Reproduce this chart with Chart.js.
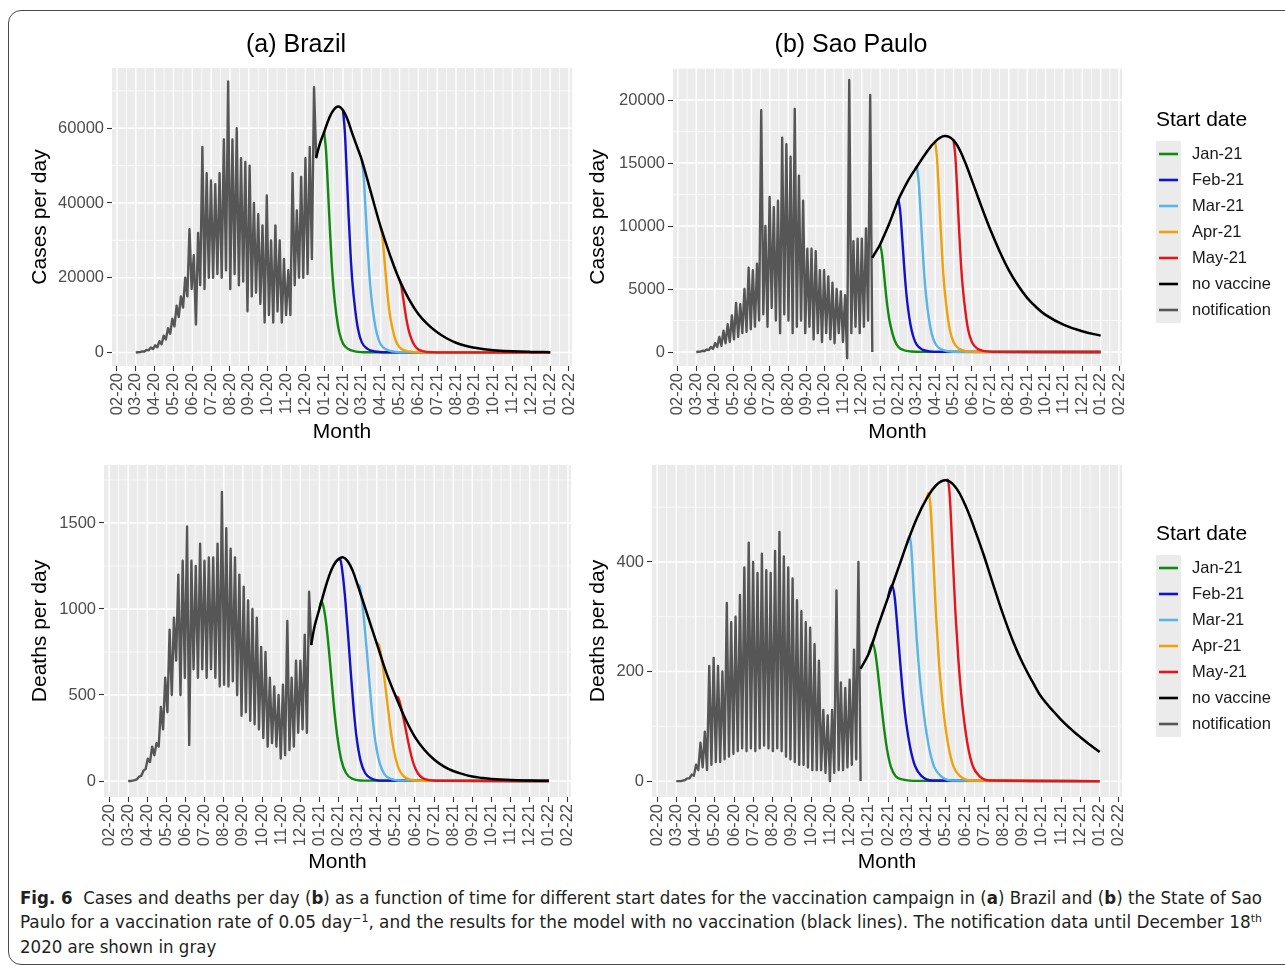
<!DOCTYPE html>
<html>
<head>
<meta charset="utf-8">
<title>Fig. 6 vaccination start dates</title>
<script src="https://cdn.jsdelivr.net/npm/chart.js@4.4.1/dist/chart.umd.min.js"></script>
<style>
  html, body { margin: 0; padding: 0; background: #fff; }
  body { width: 1285px; height: 968px; overflow: hidden; position: relative; font-family: "Liberation Sans", Arial, sans-serif; }
  .frame { position: absolute; left: 8px; top: 10px; width: 1320px; height: 955px; border: 1px solid #4a4a4a; border-radius: 13px; box-sizing: border-box; }
  .panel { position: absolute; }
  #caption { position: absolute; left: 20px; top: 0; color: #231f20; font-family: "Liberation Sans Narrow", "DejaVu Sans Condensed", "Liberation Sans", sans-serif; font-size: 17px; }
  #caption .ln { position: absolute; left: 0; white-space: nowrap; transform-origin: 0 50%; display: inline-block; line-height: 22px; }
  #caption sup { font-size: 11px; line-height: 0; vertical-align: 6px; }
</style>
</head>
<body>
<div class="frame"></div>

<canvas id="brCases" class="panel" width="560" height="425" style="left:20px;top:20px"></canvas>
<canvas id="spCases" class="panel" width="705" height="425" style="left:580px;top:20px"></canvas>
<canvas id="brDeaths" class="panel" width="560" height="425" style="left:20px;top:450px"></canvas>
<canvas id="spDeaths" class="panel" width="705" height="425" style="left:580px;top:450px"></canvas>

<div id="caption">
  <div class="ln" id="cap1" style="top:887px"><b>Fig. 6</b>&nbsp; Cases and deaths per day (<b>b</b>) as a function of time for different start dates for the vaccination campaign in (<b>a</b>) Brazil and (<b>b</b>) the State of Sao</div>
  <div class="ln" id="cap2" style="top:911px">Paulo for a vaccination rate of 0.05 day<sup>−1</sup>, and the results for the model with no vaccination (black lines). The notification data until December 18<sup>th</sup></div>
  <div class="ln" id="cap3" style="top:936px">2020 are shown in gray</div>
</div>

<script>
// ---- axis labels (x in months: 2 = Feb 2020, 13 = Jan 2021, 25 = Jan 2022) ----
const MONTH_TICKS = [2, 3, 4, 5, 6, 7, 8, 9, 10, 11, 12, 13, 14, 15, 16, 17, 18, 19, 20, 21, 22, 23, 24, 25, 26];
const MONTH_LABELS = ['02-20', '03-20', '04-20', '05-20', '06-20', '07-20', '08-20', '09-20', '10-20', '11-20', '12-20',
  '01-21', '02-21', '03-21', '04-21', '05-21', '06-21', '07-21', '08-21', '09-21', '10-21', '11-21', '12-21', '01-22', '02-22'];
const X_MIN = 1.735;
const X_MAX = 26.16;

const LEGEND_TITLE = 'Start date';
const START_NAMES = ['Jan-21', 'Feb-21', 'Mar-21', 'Apr-21', 'May-21'];
const START_MONTHS = [13, 14, 15, 16, 17];
const START_COLORS = ['#0e8a0e', '#1212c8', '#5ab4e6', '#f0a10a', '#e3161c'];
const NO_VAC_COLOR = '#000000';
const NOTIF_COLOR = '#565656';

// notification: one value every ~3.5 days from 1 Mar 2020 to 18 Dec 2020
const NOTIF_START = 3.0;
const NOTIF_STEP = 0.114;
// model without vaccine
const BLACK_MONTHS = [12.57, 12.75, 13, 13.25, 13.5, 13.75, 14, 14.25, 14.5, 14.75, 15, 15.5, 16, 16.5, 17, 17.5,
  18, 18.5, 19, 19.5, 20, 20.5, 21, 21.5, 22, 23, 24, 25];
// vaccinated scenarios: months after start date, last value is at MODEL_END
const CASE_OFFSETS = [0, 0.1, 0.2, 0.3, 0.4, 0.5, 0.65, 0.8, 1.0, 1.3, 1.7, 2.3];
const DEATH_OFFSETS = [0, 0.1, 0.2, 0.35, 0.5, 0.65, 0.8, 0.95, 1.15, 1.4, 1.75, 2.3];
const MODEL_END = 25;

// ---- (a) Brazil, cases ----
const brCasesNotif = [0, 50, 100, 300, 250, 700, 600, 1300, 900, 1900,
  1400, 3000, 2200, 4500, 3500, 6500, 5000, 9000, 7000, 12500,
  9500, 15000, 12000, 20000, 15000, 33000, 17000, 26000, 7500, 32000,
  18000, 55000, 17000, 48000, 20000, 46000, 20000, 45000, 21000, 48000,
  20000, 57000, 22000, 72500, 17000, 57000, 21000, 60000, 18000, 52000,
  19000, 51000, 11000, 50000, 15000, 40000, 16000, 37000, 13000, 34000,
  8000, 42000, 10000, 30000, 8000, 34000, 11000, 30000, 8000, 25000,
  10000, 22000, 10000, 48000, 18000, 38000, 20000, 47000, 20000, 52000,
  21000, 55000, 25000, 71000, 52000];
const brCasesNoVac = [52000, 55500, 59000, 62500, 64900, 65800, 64800, 62200, 58500, 55000, 51500, 42500, 33600, 26000,
  19400, 14300, 10300, 7500, 5400, 3800, 2600, 1800, 1250, 850, 600, 300, 150, 80];
const brCasesJan = [59000, 54000, 44000, 33500, 24000, 17000, 10000, 5500, 2400, 850, 230, 40, 0];
const brCasesFeb = [64800, 59000, 48000, 36500, 26500, 18800, 11300, 6200, 2700, 950, 260, 45, 0];
const brCasesMar = [51500, 47000, 38000, 29000, 21000, 15000, 9000, 5000, 2200, 800, 220, 40, 0];
const brCasesApr = [33600, 30700, 25000, 19000, 13800, 9800, 5900, 3200, 1400, 500, 140, 25, 0];
const brCasesMay = [19400, 17700, 14400, 11000, 8000, 5700, 3400, 1900, 800, 290, 80, 15, 0];

// ---- (b) Sao Paulo, cases ----
const spCasesNotif = [0, 20, 30, 100, 80, 200, 150, 400, 250, 700,
  400, 1200, 500, 1700, 700, 2200, 800, 2900, 1000, 3900,
  1200, 3800, 1500, 5000, 1600, 6700, 1800, 6500, 2000, 7000,
  2500, 19200, 3000, 10000, 2000, 12300, 3500, 11500, 2500, 12000,
  1500, 17000, 3000, 16500, 2500, 15500, 1500, 19300, 2000, 14000,
  2500, 12000, 1500, 8200, 2000, 8200, 1000, 8000, 1500, 6500,
  800, 6500, 1500, 6000, 1000, 5500, 700, 5000, 1500, 4800,
  800, 4500, -500, 21600, 1500, 8800, 2000, 9000, 1500, 9000,
  2000, 9800, 2500, 20400, 0];
const spCasesNoVac = [7470, 7900, 8530, 9350, 10200, 11150, 12100, 12850, 13550, 14150, 14700, 15800, 16700, 17150,
  16800, 15500, 13600, 11600, 9700, 8000, 6500, 5300, 4300, 3550, 2950, 2150, 1650, 1300];
const spCasesJan = [8530, 7800, 6400, 4900, 3600, 2600, 1600, 900, 400, 140, 40, 8, 0];
const spCasesFeb = [12100, 11100, 9100, 7000, 5100, 3700, 2200, 1250, 560, 190, 55, 10, 0];
const spCasesMar = [14700, 13500, 11100, 8500, 6200, 4500, 2700, 1500, 680, 230, 65, 12, 0];
const spCasesApr = [16700, 15300, 12600, 9700, 7100, 5100, 3100, 1700, 780, 260, 75, 14, 0];
const spCasesMay = [16800, 15400, 12700, 9600, 7000, 5100, 3100, 1700, 770, 260, 75, 14, 0];

// ---- (a) Brazil, deaths ----
const brDeathsNotif = [0, 0, 2, 5, 10, 25, 30, 60, 70, 130,
  110, 200, 150, 220, 200, 430, 300, 600, 400, 880,
  500, 950, 700, 1200, 500, 1280, 600, 1480, 210, 1280,
  650, 1250, 600, 1380, 650, 1280, 600, 1300, 650, 1300,
  600, 1380, 550, 1680, 560, 1470, 550, 1350, 580, 1300,
  500, 1200, 380, 1130, 400, 1050, 350, 1000, 330, 950,
  300, 780, 250, 750, 200, 600, 220, 550, 200, 500,
  130, 560, 150, 930, 180, 600, 200, 700, 280, 700,
  300, 850, 280, 1100, 790];
const brDeathsNoVac = [790, 900, 1000, 1100, 1190, 1255, 1290, 1300, 1275, 1220, 1140, 970, 800, 630,
  490, 360, 255, 180, 125, 85, 58, 40, 26, 18, 12, 6, 3, 1];
const brDeathsJan = [1000, 1045, 1020, 920, 760, 570, 390, 250, 120, 45, 12, 2, 0];
const brDeathsFeb = [1290, 1285, 1220, 1060, 850, 620, 410, 250, 120, 45, 13, 2, 0];
const brDeathsMar = [1140, 1135, 1070, 920, 730, 530, 350, 215, 105, 40, 12, 2, 0];
const brDeathsApr = [800, 795, 750, 640, 505, 365, 240, 150, 72, 28, 8, 1, 0];
const brDeathsMay = [490, 488, 460, 390, 310, 225, 150, 92, 45, 17, 5, 1, 0];

// ---- (b) Sao Paulo, deaths ----
const spDeathsNotif = [0, 0, 0, 1, 2, 5, 5, 12, 10, 30,
  20, 70, 25, 90, 20, 210, 30, 225, 35, 210,
  35, 200, 40, 325, 45, 290, 50, 300, 55, 340,
  60, 390, 55, 435, 60, 400, 55, 380, 60, 415,
  65, 385, 60, 380, 55, 420, 60, 455, 55, 410,
  45, 390, 40, 370, 35, 330, 30, 310, 30, 290,
  25, 280, 20, 250, 20, 220, 20, 130, 15, 120,
  0, 130, 15, 348, 20, 180, 20, 170, 25, 185,
  30, 240, 40, 400, 0];
const spDeathsNoVac = [205, 216, 233, 258, 285, 310, 335, 360, 385, 410, 435, 480, 515, 540,
  549, 537, 505, 460, 410, 355, 302, 255, 215, 182, 152, 112, 80, 53];
const spDeathsJan = [233, 246, 252, 232, 190, 140, 95, 58, 26, 9, 3, 0.5, 0];
const spDeathsFeb = [335, 350, 357, 335, 275, 210, 150, 105, 62, 28, 9, 1, 0];
const spDeathsMar = [435, 447, 430, 340, 255, 190, 140, 100, 58, 26, 9, 1, 0];
const spDeathsApr = [515, 526, 505, 410, 300, 215, 155, 108, 62, 27, 9, 1, 0];
const spDeathsMay = [549, 550, 525, 420, 310, 225, 160, 112, 64, 28, 9, 1, 0];

Chart.defaults.font.family = '"Liberation Sans", Arial, sans-serif';

function buildDatasets(notif, noVac, starts, offsets) {
  const sets = [{
    label: 'no vaccine',
    data: BLACK_MONTHS.map((m, i) => ({ x: m, y: noVac[i] })),
    borderColor: NO_VAC_COLOR, borderWidth: 2.5, tension: 0.4, order: 0,
  }];
  starts.forEach((vals, k) => {
    const pts = offsets.map((o, i) => ({ x: START_MONTHS[k] + o, y: vals[i] }));
    pts.push({ x: MODEL_END, y: vals[vals.length - 1] });
    sets.push({
      label: START_NAMES[k], data: pts,
      borderColor: START_COLORS[k], borderWidth: 2.4, cubicInterpolationMode: 'monotone', order: 5 - k,
    });
  });
  sets.push({
    label: 'notification',
    data: notif.map((v, i) => ({ x: NOTIF_START + i * NOTIF_STEP, y: v })),
    borderColor: NOTIF_COLOR, borderWidth: 2.4, tension: 0, order: 6,
  });
  return sets;
}

// grey panel with white major / minor grid lines, ggplot style
const panelGrid = {
  id: 'panelGrid',
  beforeDraw(chart) {
    const { ctx, chartArea: a, scales: { x, y } } = chart;
    ctx.save();
    ctx.fillStyle = '#EBEBEB';
    ctx.fillRect(a.left, a.top, a.right - a.left, a.bottom - a.top);
    ctx.beginPath();
    ctx.rect(a.left, a.top, a.right - a.left, a.bottom - a.top);
    ctx.clip();
    ctx.strokeStyle = '#FFFFFF';
    const vline = v => { const p = x.getPixelForValue(v); ctx.beginPath(); ctx.moveTo(p, a.top); ctx.lineTo(p, a.bottom); ctx.stroke(); };
    const hline = v => { const p = y.getPixelForValue(v); ctx.beginPath(); ctx.moveTo(a.left, p); ctx.lineTo(a.right, p); ctx.stroke(); };
    const yv = y.ticks.map(t => t.value);
    const step = yv[1] - yv[0];
    ctx.lineWidth = 0.7;
    for (let i = 0; i < MONTH_TICKS.length - 1; i++) vline((MONTH_TICKS[i] + MONTH_TICKS[i + 1]) / 2);
    for (let v = yv[0] - step / 2; v <= y.max; v += step) if (v >= y.min) hline(v);
    ctx.lineWidth = 1.4;
    MONTH_TICKS.forEach(vline);
    yv.forEach(hline);
    ctx.restore();
  }
};

// "Start date" legend with grey key column
const startLegend = {
  id: 'startLegend',
  afterDraw(chart, args, opts) {
    if (!opts.show) return;
    const { ctx, chartArea: a } = chart;
    const left = a.right + 34;
    const top = opts.titleY + 21;
    const names = START_NAMES.concat(['no vaccine', 'notification']);
    const items = names.map(n => chart.data.datasets.find(d => d.label === n));
    ctx.save();
    ctx.textAlign = 'left';
    ctx.textBaseline = 'middle';
    ctx.fillStyle = '#000';
    ctx.font = '21px "Liberation Sans", Arial, sans-serif';
    ctx.fillText(LEGEND_TITLE, left, opts.titleY);
    ctx.fillStyle = '#EBEBEB';
    ctx.fillRect(left, top, 25, 26 * items.length);
    ctx.font = '16.5px "Liberation Sans", Arial, sans-serif';
    items.forEach((d, i) => {
      const cy = top + 13 + 26 * i;
      ctx.strokeStyle = d.borderColor;
      ctx.lineWidth = 2.6;
      ctx.beginPath(); ctx.moveTo(left + 3, cy); ctx.lineTo(left + 22, cy); ctx.stroke();
      ctx.fillStyle = '#1a1a1a';
      ctx.fillText(d.label, left + 36, cy);
    });
    ctx.restore();
  }
};

const tickMarks = { drawOnChartArea: false, drawTicks: true, tickLength: 5, tickColor: '#333333', tickWidth: 1.1 };

function makePanel(id, p) {
  return new Chart(document.getElementById(id), {
    type: 'line',
    data: { datasets: buildDatasets(p.notif, p.noVac, p.starts, p.offsets) },
    options: {
      responsive: false,
      animation: false,
      devicePixelRatio: 1,
      layout: { padding: p.pad },
      elements: { point: { radius: 0 }, line: { borderJoinStyle: 'round' } },
      plugins: {
        legend: { display: false },
        tooltip: { enabled: false },
        title: p.title
          ? { display: true, text: p.title, color: '#000', font: { size: 25, weight: 'normal' }, padding: { top: 10, bottom: 8 } }
          : { display: false },
        startLegend: p.legend,
      },
      scales: {
        x: {
          type: 'linear', min: X_MIN, max: X_MAX,
          afterBuildTicks: s => { s.ticks = MONTH_TICKS.map(v => ({ value: v })); },
          afterFit: s => { s.height = p.xH; s.paddingLeft = 0; s.paddingRight = 0; },
          ticks: {
            autoSkip: false, minRotation: 90, maxRotation: 90, padding: 2,
            color: '#4D4D4D', font: { size: 16.5 },
            callback: v => MONTH_LABELS[MONTH_TICKS.indexOf(v)] || '',
          },
          grid: tickMarks,
          border: { display: false },
          title: { display: true, text: 'Month', color: '#000', font: { size: 21 }, padding: { top: 0, bottom: 0.4 } },
        },
        y: {
          type: 'linear', min: p.yMin, max: p.yMax,
          afterBuildTicks: s => { s.ticks = p.yTicks.map(v => ({ value: v })); },
          afterFit: s => { s.width = p.yW; s.paddingTop = 0; s.paddingBottom = 0; },
          ticks: { padding: 3, color: '#4D4D4D', font: { size: 16.5 }, callback: v => String(v) },
          grid: tickMarks,
          border: { display: false },
          title: { display: true, text: p.yTitle, color: '#000', font: { size: 21 }, padding: { top: p.yTitlePad, bottom: 0 } },
        },
      },
    },
    plugins: [panelGrid, startLegend],
  });
}

makePanel('brCases', {
  title: '(a) Brazil', yTitle: 'Cases per day', yTitlePad: 7.4,
  notif: brCasesNotif, noVac: brCasesNoVac, offsets: CASE_OFFSETS,
  starts: [brCasesJan, brCasesFeb, brCasesMar, brCasesApr, brCasesMay],
  yMin: -3625, yMax: 76125, yTicks: [0, 20000, 40000, 60000],
  pad: { left: 0, top: 0, right: 8, bottom: 0 }, yW: 92, xH: 79,
  legend: { show: false },
});

makePanel('spCases', {
  title: '(b) Sao Paulo', yTitle: 'Cases per day', yTitlePad: 5.4,
  notif: spCasesNotif, noVac: spCasesNoVac, offsets: CASE_OFFSETS,
  starts: [spCasesJan, spCasesFeb, spCasesMar, spCasesApr, spCasesMay],
  yMin: -1110, yMax: 22540, yTicks: [0, 5000, 10000, 15000, 20000],
  pad: { left: 0, top: 0, right: 163, bottom: 0 }, yW: 93, xH: 79,
  legend: { show: true, titleY: 100 },
});

makePanel('brDeaths', {
  title: null, yTitle: 'Deaths per day', yTitlePad: 7.4,
  notif: brDeathsNotif, noVac: brDeathsNoVac, offsets: DEATH_OFFSETS,
  starts: [brDeathsJan, brDeathsFeb, brDeathsMar, brDeathsApr, brDeathsMay],
  yMin: -93, yMax: 1837, yTicks: [0, 500, 1000, 1500],
  pad: { left: 0, top: 15, right: 9, bottom: 0 }, yW: 84, xH: 78,
  legend: { show: false },
});

makePanel('spDeaths', {
  title: null, yTitle: 'Deaths per day', yTitlePad: 5.4,
  notif: spDeathsNotif, noVac: spDeathsNoVac, offsets: DEATH_OFFSETS,
  starts: [spDeathsJan, spDeathsFeb, spDeathsMar, spDeathsApr, spDeathsMay],
  yMin: -29, yMax: 577, yTicks: [0, 200, 400],
  pad: { left: 0, top: 15, right: 163, bottom: 0 }, yW: 72, xH: 78,
  legend: { show: true, titleY: 84 },
});

// squeeze the caption lines to the measured widths of the printed caption
function fitCaption() {
  const l1 = document.getElementById('cap1');
  const l2 = document.getElementById('cap2');
  const l3 = document.getElementById('cap3');
  const s1 = 1242 / l1.getBoundingClientRect().width;
  const s2 = 1242 / l2.getBoundingClientRect().width;
  l1.style.transform = `scaleX(${s1})`;
  l2.style.transform = `scaleX(${s2})`;
  l3.style.transform = `scaleX(${s1})`;
}
fitCaption();
</script>
</body>
</html>
